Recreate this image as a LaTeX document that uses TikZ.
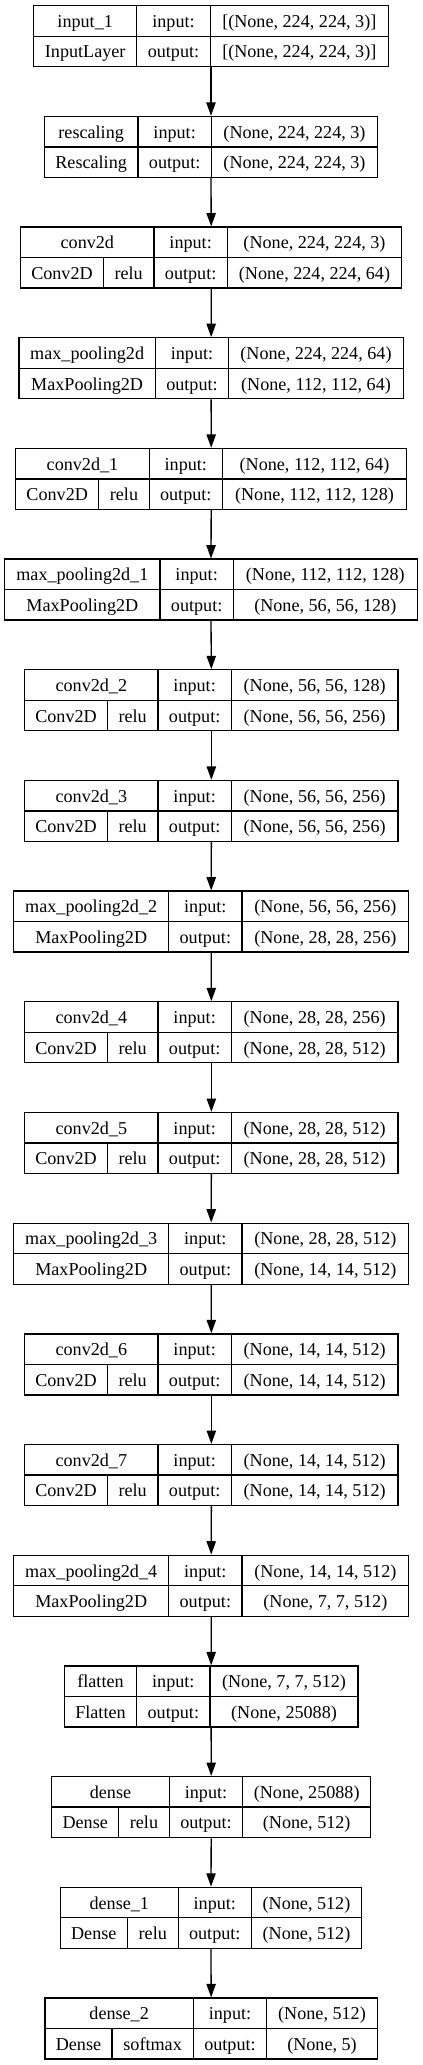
\documentclass[tikz,border=0pt]{standalone}
\usepackage{fontspec}
\setmainfont{Liberation Serif}
\usetikzlibrary{arrows.meta}

\begin{document}
\begin{tikzpicture}[x=0.75pt,y=-0.75pt,line width=1pt,
        font=\fontsize{13.6pt}{16pt}\selectfont,
        layerbox/.style={draw,inner sep=0pt},
        celltext/.style={anchor=base,inner sep=0pt},
        flow/.style={-{Triangle[length=10pt,width=7pt]}}]
        \useasboundingbox (0,0) rectangle (423,2065);

        \foreach \i/\nm/\cl/\ac/\ishape/\oshape/\xl/\xa/\xb/\xr/\xs in {
            0/input\_1/InputLayer/{}/{[(None, 224, 224, 3)]}/{[(None, 224, 224, 3)]}/33.7/136.7/210.3/388.3/0,
            1/rescaling/Rescaling/{}/{(None, 224, 224, 3)}/{(None, 224, 224, 3)}/44.3/138/211.3/377.7/0,
            2/conv2d/Conv2D/relu/{(None, 224, 224, 3)}/{(None, 224, 224, 64)}/20.7/154/227.3/401.7/103.3,
            3/max\_pooling2d/MaxPooling2D/{}/{(None, 224, 224, 64)}/{(None, 112, 112, 64)}/19/155.3/228.7/403.3/0,
            4/conv2d\_1/Conv2D/relu/{(None, 112, 112, 64)}/{(None, 112, 112, 128)}/15.7/149.3/222.3/406.7/98.7,
            5/max\_pooling2d\_1/MaxPooling2D/{}/{(None, 112, 112, 128)}/{(None, 56, 56, 128)}/4.7/160/233.3/417.3/0,
            6/conv2d\_2/Conv2D/relu/{(None, 56, 56, 128)}/{(None, 56, 56, 256)}/24.7/158/231.3/398/107.3,
            7/conv2d\_3/Conv2D/relu/{(None, 56, 56, 256)}/{(None, 56, 56, 256)}/24.7/158/231.3/398/107.3,
            8/max\_pooling2d\_2/MaxPooling2D/{}/{(None, 56, 56, 256)}/{(None, 28, 28, 256)}/13.7/168.7/242/408.7/0,
            9/conv2d\_4/Conv2D/relu/{(None, 28, 28, 256)}/{(None, 28, 28, 512)}/24.7/158/231.3/398/107.3,
            10/conv2d\_5/Conv2D/relu/{(None, 28, 28, 512)}/{(None, 28, 28, 512)}/24.7/158/231.3/398/107.3,
            11/max\_pooling2d\_3/MaxPooling2D/{}/{(None, 28, 28, 512)}/{(None, 14, 14, 512)}/13.7/168.7/242/408.7/0,
            12/conv2d\_6/Conv2D/relu/{(None, 14, 14, 512)}/{(None, 14, 14, 512)}/24.7/158/231.3/398/107.3,
            13/conv2d\_7/Conv2D/relu/{(None, 14, 14, 512)}/{(None, 14, 14, 512)}/24.7/158/231.3/398/107.3,
            14/max\_pooling2d\_4/MaxPooling2D/{}/{(None, 14, 14, 512)}/{(None, 7, 7, 512)}/13.7/168.7/242/408.7/0,
            15/flatten/Flatten/{}/{(None, 7, 7, 512)}/{(None, 25088)}/64.3/136.7/210/358/0,
            16/dense/Dense/relu/{(None, 25088)}/{(None, 512)}/51.7/169.3/242.7/370.7/118.7,
            17/dense\_1/Dense/relu/{(None, 512)}/{(None, 512)}/60.3/178.3/251.3/361.7/127.3,
            18/dense\_2/Dense/softmax/{(None, 512)}/{(None, 5)}/45/193.3/266.7/377.3/112}
        {
            \pgfmathsetmacro\yt{5.7+110.68*\i}
            \pgfmathsetmacro\ym{\yt+30.5}
            \pgfmathsetmacro\yb{\yt+61}
            \pgfmathsetmacro\bw{(\xr-\xl)*0.75}
            \node[layerbox,minimum width=\bw pt,minimum height=45.75pt] (b\i) at ({(\xl+\xr)/2},\ym) {};
            \draw (\xl,\ym) -- (\xr,\ym) (\xa,\yt) -- (\xa,\yb) (\xb,\yt) -- (\xb,\yb);

            \node[celltext] (n\i) at ({(\xl+\xa)/2},\yt+21.8) {\nm};
            \node[celltext] (pi\i) at ({(\xa+\xb)/2},\yt+21.8) {input:};
            \node[celltext] (si\i) at ({(\xb+\xr)/2},\yt+21.8) {\ishape};
            \node[celltext] (po\i) at ({(\xa+\xb)/2},\ym+21.8) {output:};
            \node[celltext] (so\i) at ({(\xb+\xr)/2},\ym+21.8) {\oshape};
            \ifdim\xs pt>0pt
                \draw (\xs,\ym) -- (\xs,\yb);
                \node[celltext] (c\i) at ({(\xl+\xs)/2},\ym+21.8) {\cl};
                \node[celltext] (a\i) at ({(\xs+\xa)/2},\ym+21.8) {\ac};
            \else
                \node[celltext] (c\i) at ({(\xl+\xa)/2},\ym+21.8) {\cl};
            \fi
        }

        \foreach \i [count=\j] in {0,...,17}
            \draw[flow] (b\i.south) -- (b\j.north);
    \end{tikzpicture}
\end{document}
